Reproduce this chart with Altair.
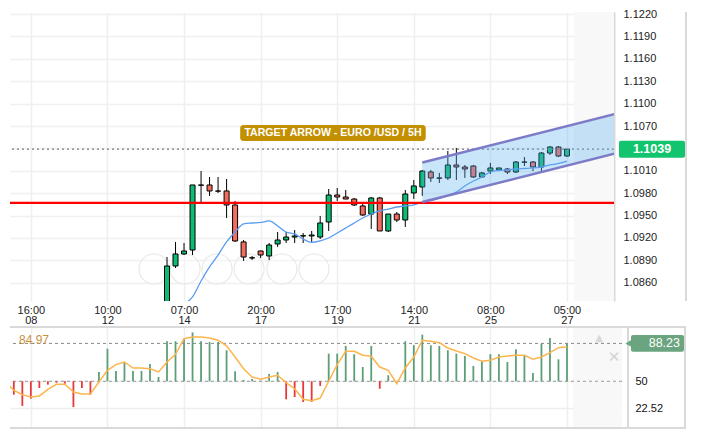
import altair as alt
import pandas as pd

# ---------------- data ----------------
candle_idx = list(range(48))
opens = [1.08249, 1.08825, 1.08986, 1.09039, 1.09910, 1.09910, 1.09830, 1.09830, 1.09642, 1.09147,
         1.08932, 1.09026, 1.08959, 1.09120, 1.09173, 1.09213, 1.09227, 1.09227, 1.09213, 1.09414,
         1.09776, 1.09749, 1.09722, 1.09629, 1.09521, 1.09736, 1.09294, 1.09521, 1.09441, 1.09803,
         1.09883, 1.10084, 1.10004, 1.10004, 1.10178, 1.10151, 1.10164, 1.10017, 1.10097, 1.10111,
         1.10124, 1.10084, 1.10218, 1.10218, 1.10151, 1.10338, 1.10419, 1.10298]
highs = [1.08945, 1.09147, 1.09133, 1.09910, 1.10097, 1.10017, 1.10017, 1.09990, 1.09696, 1.09173,
         1.08959, 1.09030, 1.09133, 1.09280, 1.09280, 1.09307, 1.09267, 1.09294, 1.09495, 1.09856,
         1.09870, 1.09843, 1.09736, 1.09669, 1.09749, 1.09749, 1.09521, 1.09548, 1.09843, 1.09977,
         1.10111, 1.10111, 1.10071, 1.10365, 1.10405, 1.10178, 1.10178, 1.10084, 1.10205, 1.10138,
         1.10138, 1.10231, 1.10285, 1.10231, 1.10352, 1.10432, 1.10432, 1.10379]
lows = [1.08236, 1.08798, 1.08972, 1.08972, 1.09682, 1.09763, 1.09803, 1.09468, 1.09147, 1.08892,
        1.08905, 1.08932, 1.08905, 1.09080, 1.09133, 1.09133, 1.09133, 1.09147, 1.09187, 1.09294,
        1.09696, 1.09722, 1.09629, 1.09495, 1.09321, 1.09294, 1.09280, 1.09414, 1.09347, 1.09722,
        1.09763, 1.09950, 1.09937, 1.09977, 1.09977, 1.10004, 1.10004, 1.10010, 1.10057, 1.10111,
        1.10057, 1.10071, 1.10164, 1.10097, 1.10071, 1.10312, 1.10285, 1.10285]
closes = [1.08825, 1.08986, 1.09026, 1.09910, 1.09906, 1.09830, 1.09827, 1.09642, 1.09160, 1.08945,
          1.08935, 1.08972, 1.09106, 1.09173, 1.09213, 1.09227, 1.09230, 1.09240, 1.09401, 1.09776,
          1.09749, 1.09722, 1.09642, 1.09508, 1.09736, 1.09294, 1.09521, 1.09441, 1.09789, 1.09897,
          1.10097, 1.10004, 1.10001, 1.10178, 1.10151, 1.10124, 1.10017, 1.10071, 1.10138, 1.10138,
          1.10084, 1.10218, 1.10215, 1.10151, 1.10338, 1.10419, 1.10298, 1.10390]

ma_start = 2
ma_values = [1.08316, 1.08410, 1.08624, 1.08812, 1.08972, 1.09147, 1.09280, 1.09388, 1.09401, 1.09408,
             1.09428, 1.09361, 1.09280, 1.09254, 1.09187, 1.09140, 1.09160, 1.09200, 1.09267, 1.09334,
             1.09401, 1.09468, 1.09521, 1.09562, 1.09588, 1.09615, 1.09629, 1.09642, 1.09682, 1.09702,
             1.09729, 1.09769, 1.09816, 1.09897, 1.09963, 1.10017, 1.10084, 1.10104, 1.10111, 1.10124,
             1.10131, 1.10138, 1.10151, 1.10178, 1.10198, 1.10231]

x_tick_idx = [-16, -7, 2, 11, 20, 29, 38, 47]
x_tick_time = ["16:00", "10:00", "07:00", "20:00", "17:00", "14:00", "08:00", "05:00"]
x_tick_day = ["08", "12", "14", "17", "19", "21", "25", "27"]

price_ticks = [1.0860, 1.0890, 1.0920, 1.0950, 1.0980, 1.1010, 1.1040,
               1.1070, 1.1100, 1.1130, 1.1160, 1.1190, 1.1220]
support_level = 1.0967
last_price = 1.1039

channel_idx = [30, 60]
channel_upper = [1.10211, 1.11072]
channel_lower = [1.09682, 1.10543]
future_start = 47.8

osc_start = -19
osc_bars = [40.2, 36.5, 25.1, 32.4, 43.2, 46.6, 48.5, 47.5, 24.0, 43.2, 36.5, 59.4, 82.9, 60.4, 68.8, 60.4, 60.4, 67.5, 54.3,
            90.4, 90.4, 93.0, 99.3, 90.4, 89.7, 89.7, 81.3, 60.1, 51.3,
            52.3, 50.5, 57.4, 59.4, 31.8, 34.1, 29.1, 29.1, 45.3, 77.9,
            77.9, 85.7, 77.3, 64.4, 85.7, 42.5, 56.1, 50.5, 90.4, 86.4,
            97.1, 86.4, 85.7, 81.3, 77.9, 75.6, 65.5, 70.2, 77.3, 77.3,
            69.5, 82.3, 75.6, 58.4, 88.0, 93.7, 72.2, 88.23]
osc_line = [49.3, 40.9, 36.5, 34.1, 35.2, 41.9, 47.0, 47.0, 39.2, 37.2, 37.2, 49.3, 61.1, 66.8, 69.5, 63.4, 63.4, 62.7, 59.4,
            69.5, 77.3, 93.0, 94.7, 94.7, 93.7, 91.4, 85.7, 74.5, 62.7,
            54.3, 52.0, 54.3, 56.1, 48.6, 42.5, 31.8, 30.3, 33.1, 50.0,
            66.8, 80.3, 80.3, 76.3, 75.2, 64.4, 61.1, 47.6, 63.4, 74.5,
            91.4, 90.4, 89.0, 83.6, 80.6, 77.9, 73.5, 70.2, 71.2, 74.5,
            75.6, 76.3, 76.3, 72.2, 74.5, 78.9, 83.9, 84.97]
osc_mid = 50
osc_last = 88.23
osc_line_last = 84.97
osc_ticks = [22.52, 50]

title_text = "TARGET ARROW - EURO /USD / 5H"
title_pos = [19.5, 1.10606]
title_box = [8.6, 30.4, 1.10499, 1.10713]
zoom_btn_idx = [-1.53, 2.12, 5.88, 9.64, 13.5, 17.27]
zoom_btn_price = 1.08785

# ---------------- layout / style ----------------
FONT = "Liberation Sans"
GREEN = "#0dbb73"
RED = "#f36d5f"
OSC_GREEN = "#5c9e76"
OSC_RED = "#e8383a"
GRID = "#efefef"
BORDER = "#d9d9d9"

W1, H1 = 604, 289
W2, H2 = 612, 101
XMIN = -18.45
X1MAX = XMIN + W1 / 8.51
X2MAX = XMIN + W2 / 8.51
PMIN, PMAX = 1.08356, 1.12227
OMIN, OMAX = 2.83, 104.8

xs1 = alt.Scale(domain=[XMIN, X1MAX], nice=False, zero=False, padding=0)
ys1 = alt.Scale(domain=[PMIN, PMAX], nice=False, zero=False, padding=0)
xs2 = alt.Scale(domain=[XMIN, X2MAX], nice=False, zero=False, padding=0)
ys2 = alt.Scale(domain=[OMIN, OMAX], nice=False, zero=False, padding=0)

label_expr = " : ".join(
    f"datum.value === {v} ? ['{t}', '{d}']" for v, t, d in zip(x_tick_idx, x_tick_time, x_tick_day)
) + " : ''"

xaxis1 = alt.Axis(values=x_tick_idx, labelExpr=label_expr, grid=True, gridColor=GRID, gridWidth=1.5,
                  domain=False, ticks=False, tickSize=0, labelPadding=3, labelFontSize=11,
                  labelLineHeight=10.5, labelColor="#222222", labelFont=FONT, labelFlush=False,
                  labelOverlap=False, title=None)
yaxis1 = alt.Axis(orient="right", values=price_ticks,
                  labelExpr="abs(datum.value - 1.104) < 0.0001 ? '' : format(datum.value, '.4f')",
                  grid=True, gridColor="#f0f0f0", gridWidth=1.5, domain=True, domainColor=BORDER,
                  domainWidth=2, ticks=False, tickSize=0, labelPadding=9, labelFontSize=11,
                  labelColor="#222222", labelFont=FONT, labelOverlap=False, title=None)
xaxis2 = alt.Axis(values=x_tick_idx, labels=False, grid=True, gridColor=GRID, gridWidth=1.5,
                  domain=False, ticks=False, title=None)
yaxis2 = alt.Axis(orient="right", values=osc_ticks,
                  labelExpr="datum.value == 50 ? '50' : format(datum.value, '.2f')",
                  grid=True, gridColor="#eeeeee", gridWidth=1.5, domain=False, ticks=False, tickSize=0,
                  labelPadding=13, labelFontSize=11, labelColor="#111111", labelFont=FONT, title=None)


def X1(f):
    return alt.X(f, type="quantitative", scale=xs1, axis=xaxis1)


def Y1(f):
    return alt.Y(f, type="quantitative", scale=ys1, axis=yaxis1)


def X2(f):
    return alt.X(f, type="quantitative", scale=xs2, axis=xaxis2)


def Y2(f):
    return alt.Y(f, type="quantitative", scale=ys2, axis=yaxis2)


# ---------------- price panel ----------------
candles = pd.DataFrame({"i": candle_idx, "o": opens, "h": highs, "l": lows, "c": closes})
ma = pd.DataFrame({"i": list(range(ma_start, ma_start + len(ma_values))), "m": ma_values})
chan = pd.DataFrame({"i": channel_idx, "u": channel_upper, "lo": channel_lower})
future1 = pd.DataFrame({"x0": [future_start], "x1": [future_start + 30]})
btns = pd.DataFrame({"i": zoom_btn_idx, "p": [zoom_btn_price] * len(zoom_btn_idx)})
sup = pd.DataFrame({"p": [support_level]})
lastp = pd.DataFrame({"p": [last_price], "y0": [last_price + 0.00114], "y1": [last_price - 0.00114],
                      "t": [f"{last_price:.4f}"]})
tbox = pd.DataFrame({"x0": [title_box[0]], "x1": [title_box[1]], "y0": [title_box[2]], "y1": [title_box[3]],
                     "i": [title_pos[0]], "p": [title_pos[1]], "t": [title_text]})

hatch1 = alt.Chart(future1).mark_rect(fill="#f8f8f8", clip=True).encode(
    x=X1("x0"), x2="x1", y=alt.value(0), y2=alt.value(H1))
buttons = alt.Chart(btns).mark_point(shape="circle", size=900, fill="#ffffff", fillOpacity=0.3,
                                     stroke="#e8e8e8", strokeWidth=1.2, opacity=1).encode(
    x=X1("i"), y=Y1("p"))
wicks = alt.Chart(candles).mark_rule(color="black", strokeWidth=1, clip=True).encode(
    x=X1("i"), y=Y1("l"), y2="h")
bodies = alt.Chart(candles).mark_bar(width=5, stroke="black", strokeWidth=1, clip=True).encode(
    x=X1("i"), y=Y1("o"), y2="c",
    color=alt.condition("datum.c >= datum.o", alt.value(GREEN), alt.value(RED)))
ma_line = alt.Chart(ma).mark_line(color="#5a9cf2", strokeWidth=1.3, clip=True, interpolate="monotone").encode(
    x=X1("i"), y=Y1("m"))
sup_rule = alt.Chart(sup).mark_rule(color="#ff0000", strokeWidth=2.2).encode(y=Y1("p"))
last_rule = alt.Chart(lastp).mark_rule(color="#7a7a7a", strokeDash=[2, 3], strokeWidth=1.2).encode(y=Y1("p"))
chan_area = alt.Chart(chan).mark_area(color="#5ab0f0", opacity=0.33, clip=True).encode(
    x=X1("i"), y=Y1("u"), y2="lo")
chan_up = alt.Chart(chan).mark_line(color="#7d7bc7", strokeWidth=2.5, clip=True).encode(x=X1("i"), y=Y1("u"))
chan_lo = alt.Chart(chan).mark_line(color="#7d7bc7", strokeWidth=2.5, clip=True).encode(x=X1("i"), y=Y1("lo"))
title_rect = alt.Chart(tbox).mark_rect(color="#c29000", cornerRadius=3).encode(
    x=X1("x0"), x2="x1", y=Y1("y0"), y2="y1")
title_txt = alt.Chart(tbox).mark_text(color="white", fontWeight="bold", fontSize=10.6, font=FONT).encode(
    x=X1("i"), y=Y1("p"), text="t:N")
badge_rect = alt.Chart(lastp).mark_rect(color="#13c46e", cornerRadius=2).encode(
    x=alt.value(609), x2=alt.value(675), y=Y1("y0"), y2="y1")
badge_txt = alt.Chart(lastp).mark_text(color="white", fontWeight="bold", fontSize=12.5, font=FONT).encode(
    x=alt.value(642), y=Y1("p"), text="t:N")
border1 = alt.Chart(sup).mark_rule(color=BORDER, strokeWidth=2).encode(
    x=alt.value(676), y=alt.value(0), y2=alt.value(H1))

price = alt.layer(hatch1, buttons, wicks, bodies, ma_line, sup_rule, last_rule, chan_area, chan_up, chan_lo,
                  title_rect, title_txt, badge_rect, badge_txt, border1).properties(width=W1, height=H1)

# ---------------- oscillator panel ----------------
osc = pd.DataFrame({"i": list(range(osc_start, osc_start + len(osc_bars))), "b": osc_bars, "ln": osc_line,
                    "mid": [osc_mid] * len(osc_bars)})
future2 = pd.DataFrame({"x0": [future_start - 0.1], "x1": [future_start + 30]})
mid = pd.DataFrame({"v": [osc_mid]})
lasto = pd.DataFrame({"v": [osc_last], "y0": [osc_last + 8.5], "y1": [osc_last - 8.5], "t": [f"{osc_last:.2f}"]})
legend = pd.DataFrame({"t": [f"{osc_line_last:.2f}"]})

hatch2 = alt.Chart(future2).mark_rect(fill="#f8f8f8", clip=True).encode(
    x=X2("x0"), x2="x1", y=alt.value(0), y2=alt.value(H2))
mid_rule = alt.Chart(mid).mark_rule(color="#9a9a9a", strokeDash=[3, 3], strokeWidth=1).encode(y=Y2("v"))
last_rule2 = alt.Chart(lasto).mark_rule(color="#8a8a8a", strokeDash=[3, 3], strokeWidth=1).encode(y=Y2("v"))
bars = alt.Chart(osc).mark_rule(strokeWidth=1.8, clip=True).encode(
    x=X2("i"), y=Y2("mid"), y2="b",
    color=alt.condition("datum.b >= 50", alt.value(OSC_GREEN), alt.value(OSC_RED)))
oline = alt.Chart(osc).mark_line(color="#fdb54e", strokeWidth=1.5, clip=True).encode(x=X2("i"), y=Y2("ln"))
legend_txt = alt.Chart(legend).mark_text(color="#c8913f", fontSize=12, font=FONT).encode(
    x=alt.value(24), y=alt.value(13), text="t:N")
obadge = alt.Chart(lasto).mark_rect(color="#6aa57f", cornerRadius=2).encode(
    x=alt.value(621), x2=alt.value(674), y=Y2("y0"), y2="y1")
onotch = alt.Chart(lasto).mark_point(shape="triangle-left", filled=True, size=70, color="#6aa57f", opacity=1).encode(
    x=alt.value(619), y=Y2("v"))
obadge_txt = alt.Chart(lasto).mark_text(color="white", fontSize=12.5, font=FONT, align="right").encode(
    x=alt.value(670), y=Y2("v"), text="t:N")
close_icon = alt.Chart(mid).mark_text(color="#d4d4d4", fontSize=15, font="DejaVu Sans").encode(
    x=alt.value(604), y=alt.value(30), text=alt.value("✕"))
tri_icon = alt.Chart(mid).mark_text(color="#d8d8d8", fontSize=10, font="DejaVu Sans").encode(
    x=alt.value(589), y=alt.value(11), text=alt.value("▲"))
top_b = alt.Chart(mid).mark_rule(color=BORDER, strokeWidth=2).encode(
    x=alt.value(0), x2=alt.value(676), y=alt.value(0))
bot_b = alt.Chart(mid).mark_rule(color=BORDER, strokeWidth=2).encode(
    x=alt.value(0), x2=alt.value(676), y=alt.value(H2))
v1 = alt.Chart(mid).mark_rule(color=BORDER, strokeWidth=2).encode(
    x=alt.value(618), y=alt.value(0), y2=alt.value(H2))
v2 = alt.Chart(mid).mark_rule(color=BORDER, strokeWidth=2).encode(
    x=alt.value(675), y=alt.value(0), y2=alt.value(H2))

oscp = alt.layer(hatch2, mid_rule, last_rule2, bars, oline, legend_txt, tri_icon, close_icon,
                 top_b, bot_b, v1, v2, onotch, obadge, obadge_txt).properties(width=W2, height=H2)

chart = alt.vconcat(price, oscp, spacing=0).properties(
    padding={"left": 0, "top": 0, "right": 0, "bottom": 0}
).configure(font=FONT).configure_view(stroke=None)

chart.save("out.html", embed_options={"renderer": "svg", "actions": False})
